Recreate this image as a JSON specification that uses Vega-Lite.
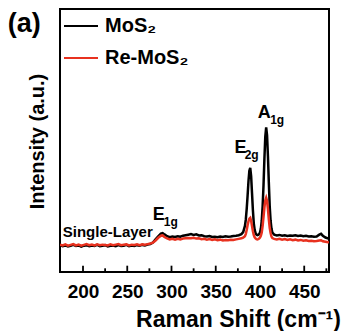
{
  "$schema": "https://vega.github.io/schema/vega-lite/v6.json",
  "width": 269,
  "height": 263,
  "autosize": {"type": "none"},
  "padding": {"left": 60, "top": 9, "right": 18, "bottom": 59},
  "background": "white",
  "config": {
    "font": "Liberation Sans",
    "view": {"stroke": "black", "strokeWidth": 2, "fill": null},
    "text": {"font": "Liberation Sans", "fontWeight": "bold", "color": "black"}
  },
  "layer": [
    {
      "data": {"values": [{"tv": 200, "lo": 0, "hi": 2.4}, {"tv": 250, "lo": 0, "hi": 2.4}, {"tv": 300, "lo": 0, "hi": 2.4}, {"tv": 350, "lo": 0, "hi": 2.4}, {"tv": 400, "lo": 0, "hi": 2.4}, {"tv": 450, "lo": 0, "hi": 2.4}, {"tv": 225, "lo": 0, "hi": 1.4}, {"tv": 275, "lo": 0, "hi": 1.4}, {"tv": 325, "lo": 0, "hi": 1.4}, {"tv": 375, "lo": 0, "hi": 1.4}, {"tv": 425, "lo": 0, "hi": 1.4}, {"tv": 475, "lo": 0, "hi": 1.4}]},
      "mark": {"type": "bar", "color": "#000000", "width": 1.8},
      "encoding": {"x": {"field": "tv", "type": "quantitative", "scale": {"domain": [174, 478], "nice": false, "zero": false, "padding": 0}}, "y": {"field": "lo", "type": "quantitative", "scale": {"domain": [0, 100], "nice": false, "padding": 0}}, "y2": {"field": "hi"}}
    },
    {
      "data": {
        "values": [
          {"s":174,"MoS₂":10.2,"Re-MoS₂":10.4},{"s":177,"MoS₂":9.8,"Re-MoS₂":10.1},{"s":180,"MoS₂":10.1,"Re-MoS₂":10.5},{"s":183,"MoS₂":9.7,"Re-MoS₂":10.0},{"s":186,"MoS₂":10.0,"Re-MoS₂":10.3},{"s":189,"MoS₂":10.3,"Re-MoS₂":10.6},{"s":192,"MoS₂":9.9,"Re-MoS₂":10.1},{"s":195,"MoS₂":10.1,"Re-MoS₂":10.4},{"s":198,"MoS₂":9.6,"Re-MoS₂":10.0},{"s":201,"MoS₂":10.0,"Re-MoS₂":10.3},{"s":204,"MoS₂":10.2,"Re-MoS₂":10.6},{"s":207,"MoS₂":9.8,"Re-MoS₂":10.2},{"s":210,"MoS₂":10.1,"Re-MoS₂":10.4},{"s":213,"MoS₂":9.9,"Re-MoS₂":10.1},{"s":216,"MoS₂":10.3,"Re-MoS₂":10.5},{"s":219,"MoS₂":9.8,"Re-MoS₂":10.2},{"s":222,"MoS₂":10.0,"Re-MoS₂":10.4},{"s":225,"MoS₂":10.2,"Re-MoS₂":10.3},{"s":228,"MoS₂":9.7,"Re-MoS₂":10.1},{"s":231,"MoS₂":10.0,"Re-MoS₂":10.5},{"s":234,"MoS₂":10.1,"Re-MoS₂":10.2},{"s":237,"MoS₂":9.8,"Re-MoS₂":10.4},{"s":240,"MoS₂":10.2,"Re-MoS₂":10.6},{"s":243,"MoS₂":9.9,"Re-MoS₂":10.2},{"s":246,"MoS₂":10.0,"Re-MoS₂":10.4},{"s":249,"MoS₂":10.3,"Re-MoS₂":10.5},{"s":252,"MoS₂":9.8,"Re-MoS₂":10.1},{"s":255,"MoS₂":10.1,"Re-MoS₂":10.4},{"s":258,"MoS₂":9.9,"Re-MoS₂":10.3},{"s":261,"MoS₂":10.2,"Re-MoS₂":10.5},{"s":264,"MoS₂":10.0,"Re-MoS₂":10.2},{"s":267,"MoS₂":10.3,"Re-MoS₂":10.5},{"s":270,"MoS₂":10.1,"Re-MoS₂":10.4},{"s":273,"MoS₂":10.4,"Re-MoS₂":10.6},{"s":276,"MoS₂":10.6,"Re-MoS₂":10.8},{"s":279,"MoS₂":11.2,"Re-MoS₂":11.2},{"s":282,"MoS₂":12.4,"Re-MoS₂":12.0},{"s":285,"MoS₂":13.6,"Re-MoS₂":13.0},{"s":288,"MoS₂":14.6,"Re-MoS₂":13.8},{"s":290,"MoS₂":14.8,"Re-MoS₂":13.9},{"s":292,"MoS₂":14.3,"Re-MoS₂":13.3},{"s":295,"MoS₂":13.6,"Re-MoS₂":12.8},{"s":298,"MoS₂":13.2,"Re-MoS₂":12.4},{"s":301,"MoS₂":13.5,"Re-MoS₂":12.6},{"s":304,"MoS₂":13.3,"Re-MoS₂":12.3},{"s":307,"MoS₂":13.6,"Re-MoS₂":12.6},{"s":310,"MoS₂":13.4,"Re-MoS₂":12.4},{"s":313,"MoS₂":13.8,"Re-MoS₂":12.7},{"s":316,"MoS₂":14.0,"Re-MoS₂":12.8},{"s":319,"MoS₂":14.2,"Re-MoS₂":12.9},{"s":322,"MoS₂":14.4,"Re-MoS₂":12.8},{"s":325,"MoS₂":14.1,"Re-MoS₂":13.0},{"s":328,"MoS₂":14.3,"Re-MoS₂":12.7},{"s":331,"MoS₂":13.9,"Re-MoS₂":12.8},{"s":334,"MoS₂":14.0,"Re-MoS₂":12.5},{"s":337,"MoS₂":13.6,"Re-MoS₂":12.6},{"s":340,"MoS₂":13.5,"Re-MoS₂":12.3},{"s":343,"MoS₂":13.7,"Re-MoS₂":12.5},{"s":346,"MoS₂":13.3,"Re-MoS₂":12.2},{"s":349,"MoS₂":13.4,"Re-MoS₂":12.4},{"s":352,"MoS₂":13.2,"Re-MoS₂":12.1},{"s":355,"MoS₂":13.5,"Re-MoS₂":12.3},{"s":358,"MoS₂":13.3,"Re-MoS₂":12.0},{"s":361,"MoS₂":13.6,"Re-MoS₂":12.2},{"s":364,"MoS₂":13.4,"Re-MoS₂":12.1},{"s":367,"MoS₂":13.5,"Re-MoS₂":12.3},{"s":370,"MoS₂":13.7,"Re-MoS₂":12.2},{"s":373,"MoS₂":13.8,"Re-MoS₂":12.4},{"s":376,"MoS₂":14.0,"Re-MoS₂":12.6},{"s":379,"MoS₂":14.4,"Re-MoS₂":12.8},{"s":381,"MoS₂":15.2,"Re-MoS₂":13.1},{"s":383,"MoS₂":17.5,"Re-MoS₂":13.6},{"s":384,"MoS₂":20.0,"Re-MoS₂":14.5},{"s":385,"MoS₂":24.0,"Re-MoS₂":16.0},{"s":386,"MoS₂":29.0,"Re-MoS₂":17.8},{"s":387,"MoS₂":34.5,"Re-MoS₂":19.3},{"s":388,"MoS₂":38.5,"Re-MoS₂":20.3},{"s":389,"MoS₂":39.6,"Re-MoS₂":20.6},{"s":390,"MoS₂":36.5,"Re-MoS₂":19.5},{"s":391,"MoS₂":30.0,"Re-MoS₂":17.5},{"s":392,"MoS₂":23.5,"Re-MoS₂":15.5},{"s":393,"MoS₂":18.5,"Re-MoS₂":14.0},{"s":394,"MoS₂":16.0,"Re-MoS₂":13.2},{"s":395,"MoS₂":14.8,"Re-MoS₂":12.8},{"s":396,"MoS₂":14.2,"Re-MoS₂":12.5},{"s":397,"MoS₂":14.0,"Re-MoS₂":12.4},{"s":398,"MoS₂":14.1,"Re-MoS₂":12.5},{"s":399,"MoS₂":14.4,"Re-MoS₂":12.7},{"s":400,"MoS₂":15.0,"Re-MoS₂":13.1},{"s":401,"MoS₂":16.5,"Re-MoS₂":13.8},{"s":402,"MoS₂":19.5,"Re-MoS₂":15.0},{"s":403,"MoS₂":25.0,"Re-MoS₂":17.5},{"s":404,"MoS₂":33.0,"Re-MoS₂":21.0},{"s":405,"MoS₂":43.0,"Re-MoS₂":24.5},{"s":406,"MoS₂":51.5,"Re-MoS₂":27.2},{"s":407,"MoS₂":55.0,"Re-MoS₂":28.2},{"s":408,"MoS₂":52.0,"Re-MoS₂":27.0},{"s":409,"MoS₂":44.0,"Re-MoS₂":24.0},{"s":410,"MoS₂":34.0,"Re-MoS₂":20.0},{"s":411,"MoS₂":25.0,"Re-MoS₂":16.8},{"s":412,"MoS₂":19.5,"Re-MoS₂":14.8},{"s":413,"MoS₂":16.5,"Re-MoS₂":13.5},{"s":414,"MoS₂":15.0,"Re-MoS₂":12.9},{"s":416,"MoS₂":14.2,"Re-MoS₂":12.6},{"s":419,"MoS₂":13.9,"Re-MoS₂":12.4},{"s":422,"MoS₂":14.1,"Re-MoS₂":12.6},{"s":425,"MoS₂":13.8,"Re-MoS₂":12.3},{"s":428,"MoS₂":14.0,"Re-MoS₂":12.5},{"s":431,"MoS₂":13.7,"Re-MoS₂":12.2},{"s":434,"MoS₂":13.9,"Re-MoS₂":12.4},{"s":437,"MoS₂":13.8,"Re-MoS₂":12.1},{"s":440,"MoS₂":14.0,"Re-MoS₂":12.3},{"s":443,"MoS₂":13.7,"Re-MoS₂":12.0},{"s":446,"MoS₂":13.9,"Re-MoS₂":12.2},{"s":449,"MoS₂":13.6,"Re-MoS₂":11.9},{"s":452,"MoS₂":13.8,"Re-MoS₂":12.1},{"s":455,"MoS₂":13.5,"Re-MoS₂":11.8},{"s":458,"MoS₂":13.6,"Re-MoS₂":11.9},{"s":461,"MoS₂":13.4,"Re-MoS₂":11.7},{"s":464,"MoS₂":13.5,"Re-MoS₂":11.8},{"s":467,"MoS₂":14.2,"Re-MoS₂":12.0},{"s":469,"MoS₂":14.5,"Re-MoS₂":12.1},{"s":471,"MoS₂":13.8,"Re-MoS₂":11.7},{"s":474,"MoS₂":13.1,"Re-MoS₂":11.5},{"s":477,"MoS₂":12.8,"Re-MoS₂":11.3},{"s":478,"MoS₂":12.9,"Re-MoS₂":11.4}
        ]
      },
      "transform": [{"fold": ["MoS₂", "Re-MoS₂"], "as": ["sample", "intensity"]}],
      "mark": {"type": "line", "strokeWidth": 2.5, "clip": true},
      "encoding": {
        "x": {
          "field": "s", "type": "quantitative",
          "axis": {
            "values": [200, 250, 300, 350, 400, 450],
            "format": "d",
            "domain": false,
            "grid": false,
            "ticks": false,
            "labelFontSize": 19,
            "labelFontWeight": "bold",
            "labelColor": "black",
            "labelPadding": 10,
            "title": "Raman Shift (cm⁻¹)",
            "titleFontSize": 23,
            "titleFontWeight": "bold",
            "titleColor": "black",
            "titleAlign": "center",
            "titleBaseline": "alphabetic",
            "titleX": 178,
            "titleY": 54
          }
        },
        "y": {
          "field": "intensity", "type": "quantitative",
          "axis": {
            "labels": false, "ticks": false, "domain": false, "grid": false,
            "title": "Intensity (a.u.)",
            "titleFontSize": 20,
            "titleFontWeight": "bold",
            "titleColor": "black",
            "titleAngle": -90,
            "titleAlign": "center",
            "titleBaseline": "alphabetic",
            "titleX": -17,
            "titleY": 132
          }
        },
        "color": {
          "field": "sample", "type": "nominal",
          "scale": {"domain": ["MoS₂", "Re-MoS₂"], "range": ["black", "#e8311f"]},
          "legend": {
            "orient": "none", "legendX": 3, "legendY": -1,
            "title": null,
            "symbolType": "stroke",
            "symbolSize": 1156,
            "symbolStrokeWidth": 2,
            "labelFontSize": 20,
            "labelFontWeight": "bold",
            "labelColor": "black",
            "labelOffset": 6,
            "rowPadding": 4,
            "padding": 0
          }
        }
      }
    },
    {
      "data": {"values": [{"x": 114.9, "y": 91.4, "t": "(a)"}]},
      "mark": {"type": "text", "fontSize": 27, "align": "left", "baseline": "alphabetic"},
      "encoding": {"x": {"field": "x", "type": "quantitative"}, "y": {"field": "y", "type": "quantitative"}, "text": {"field": "t"}}
    },
    {
      "data": {"values": [{"x": 177.1, "y": 13.3, "t": "Single-Layer"}]},
      "mark": {"type": "text", "fontSize": 15, "align": "left", "baseline": "alphabetic"},
      "encoding": {"x": {"field": "x", "type": "quantitative"}, "y": {"field": "y", "type": "quantitative"}, "text": {"field": "t"}}
    },
    {
      "data": {"values": [{"x": 278.8, "y": 19.8, "t": "E"}, {"x": 371.3, "y": 45.2, "t": "E"}, {"x": 397.4, "y": 58.6, "t": "A"}]},
      "mark": {"type": "text", "fontSize": 18, "align": "left", "baseline": "alphabetic"},
      "encoding": {"x": {"field": "x", "type": "quantitative"}, "y": {"field": "y", "type": "quantitative"}, "text": {"field": "t"}}
    },
    {
      "data": {"values": [{"x": 291.2, "y": 17.5, "t": "1g"}, {"x": 382.7, "y": 43.0, "t": "2g"}, {"x": 411.5, "y": 56.3, "t": "1g"}]},
      "mark": {"type": "text", "fontSize": 12, "align": "left", "baseline": "alphabetic"},
      "encoding": {"x": {"field": "x", "type": "quantitative"}, "y": {"field": "y", "type": "quantitative"}, "text": {"field": "t"}}
    }
  ]
}
